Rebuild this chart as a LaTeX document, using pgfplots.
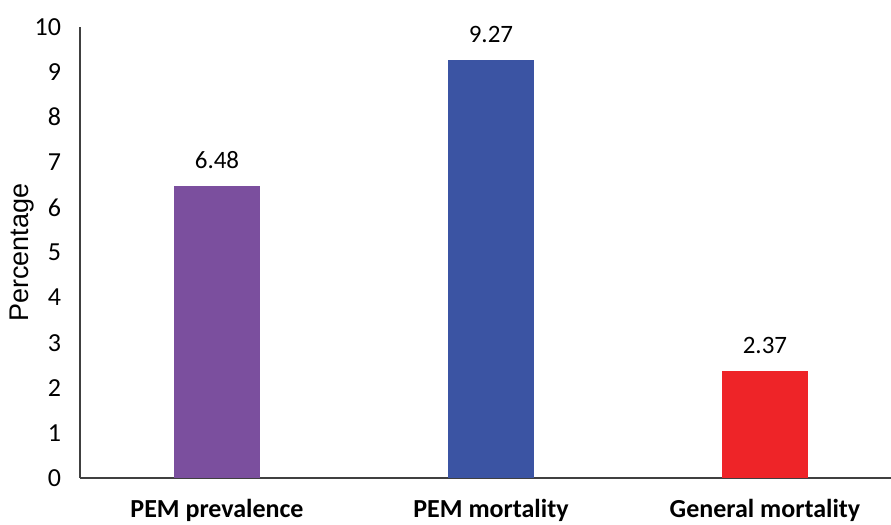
\documentclass[border=0pt]{standalone}
\usepackage{pgfplots}
\pgfplotsset{compat=1.18}
\usepackage{fontspec}
\setmainfont{Carlito}
\newfontfamily\arialfont{Liberation Sans}
\definecolor{cpurple}{HTML}{7B4F9E}
\definecolor{cblue}{HTML}{3B54A3}
\definecolor{cred}{HTML}{EE2428}
\definecolor{axgray}{HTML}{404040}
\begin{document}
\begin{tikzpicture}[x=0.5pt,y=0.5pt]
\useasboundingbox (-80,-47) rectangle (811,478);
\begin{axis}[
  at={(0,0)}, anchor=south west,
  scale only axis, width=405.5pt, height=225.5pt,
  xmin=-0.5, xmax=2.46, ymin=0, ymax=10,
  axis x line=bottom, axis y line=left,
  axis line style={-, axgray, line width=0.8pt},
  xtick={0,1,2},
  xticklabels={PEM prevalence, PEM mortality, General mortality},
  xticklabel style={font=\fontsize{13}{15}\selectfont\bfseries, yshift=-7pt},
  ytick={0,1,...,10},
  yticklabel style={font=\fontsize{13}{15}\selectfont, xshift=-6pt},
  /pgf/number format/assume math mode=true,
  major tick length=0pt,
  ylabel={Percentage},
  every axis y label/.style={at={(axis description cs:-0.0715,0.5)}, rotate=90, anchor=center, font=\arialfont\fontsize{13.5}{16}\selectfont},
  ybar=0pt, bar width=43pt,
  nodes near coords,
  nodes near coords style={font=\fontsize{12.5}{15}\selectfont, yshift=5pt},
  every node near coord/.append style={/pgf/number format/.cd, fixed, precision=2, fixed zerofill, assume math mode=true},
  clip=false,
]
\addplot[fill=cpurple, draw=none, bar shift=0pt] coordinates {(0,6.48)};
\addplot[fill=cblue, draw=none, bar shift=0pt] coordinates {(1,9.27)};
\addplot[fill=cred, draw=none, bar shift=0pt] coordinates {(2,2.37)};
\end{axis}
\end{tikzpicture}
\end{document}
